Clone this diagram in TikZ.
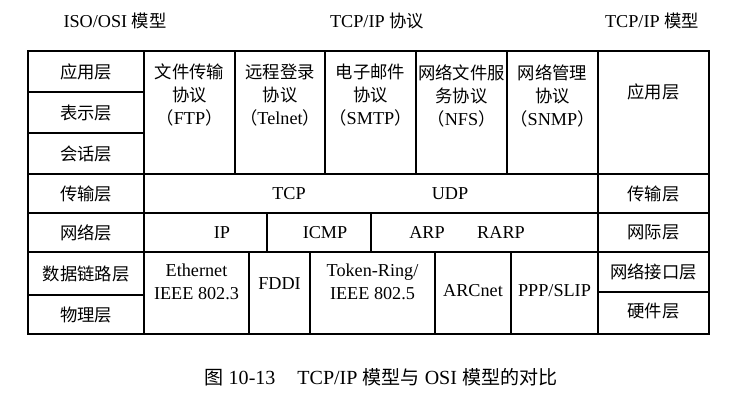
\documentclass[tikz,border=0pt]{standalone}
\usepackage{fontspec}
\setmainfont{Liberation Serif}[Scale=1.05]
\newfontfamily\cjk{Noto Sans CJK SC}
\usetikzlibrary{fit}
\newcommand\zh[1]{{\cjk #1}}
\begin{document}
\begin{tikzpicture}[x=0.75pt,y=-0.75pt,
  cell/.style={draw, line width=0.9pt, inner sep=0pt},
  lbl/.style={inner sep=0pt, font=\fontsize{13}{17.25}\selectfont, align=center},
  ttl/.style={inner sep=0pt, font=\fontsize{13}{17}\selectfont},
]
\useasboundingbox (0,0) rectangle (752,397);
% titles
\node[ttl] (t1) at (115,21) {ISO/OSI \zh{模型}};
\node[ttl] (t2) at (377,21) {TCP/IP \zh{协议}};
\node[ttl] (t3) at (652,21) {TCP/IP \zh{模型}};
% OSI column
\node[cell, fit={(28,51) (144,92)}] (o1) {};
\node[cell, fit={(28,92) (144,133)}] (o2) {};
\node[cell, fit={(28,133) (144,174)}] (o3) {};
\node[cell, fit={(28,174) (144,213)}] (o4) {};
\node[cell, fit={(28,213) (144,252)}] (o5) {};
\node[cell, fit={(28,252) (144,295)}] (o6) {};
\node[cell, fit={(28,295) (144,334)}] (o7) {};
\node[lbl] (o1t) at (o1) {\zh{应用层}};
\node[lbl] (o2t) at (o2) {\zh{表示层}};
\node[lbl] (o3t) at (o3) {\zh{会话层}};
\node[lbl] (o4t) at (o4) {\zh{传输层}};
\node[lbl] (o5t) at (o5) {\zh{网络层}};
\node[lbl] (o6t) at (o6) {\zh{数据链路层}};
\node[lbl] (o7t) at (o7) {\zh{物理层}};
% application protocols
\node[cell, fit={(144,51) (235,174)}] (a1) {};
\node[cell, fit={(235,51) (325,174)}] (a2) {};
\node[cell, fit={(325,51) (416,174)}] (a3) {};
\node[cell, fit={(416,51) (507,174)}] (a4) {};
\node[cell, fit={(507,51) (598,174)}] (a5) {};
\node[lbl, anchor=north] (a1t) at (a1.north |- 0,64) {\zh{文件传输}\\\zh{协议}\\\zh{（}FTP\zh{）}};
\node[lbl, anchor=north] (a2t) at (a2.north |- 0,64) {\zh{远程登录}\\\zh{协议}\\\zh{（}Telnet\zh{）}};
\node[lbl, anchor=north] (a3t) at (a3.north |- 0,64) {\zh{电子邮件}\\\zh{协议}\\\zh{（}SMTP\zh{）}};
\node[lbl, anchor=north] (a4t) at (a4.north |- 0,64) {\zh{网络文件服}\\\zh{务协议}\\\zh{（}NFS\zh{）}};
\node[lbl, anchor=north] (a5t) at (a5.north |- 0,64) {\zh{网络管理}\\\zh{协议}\\\zh{（}SNMP\zh{）}};
% transport
\node[cell, fit={(144,174) (598,213)}] (tr) {};
\node[lbl] (tcp) at (289,193.5) {TCP};
\node[lbl] (udp) at (450,193.5) {UDP};
% network
\node[cell, fit={(144,213) (267,252)}] (ip) {};
\node[cell, fit={(267,213) (371,252)}] (icmp) {};
\node[cell, fit={(371,213) (598,252)}] (arpc) {};
\node[lbl] (ipt) at (222,232.5) {IP};
\node[lbl] (icmpt) at (325,232.5) {ICMP};
\node[lbl] (arp) at (427,232.5) {ARP};
\node[lbl] (rarp) at (501,232.5) {RARP};
% link
\node[cell, fit={(144,252) (249,334)}] (l1) {};
\node[cell, fit={(249,252) (310,334)}] (l2) {};
\node[cell, fit={(310,252) (435,334)}] (l3) {};
\node[cell, fit={(435,252) (511,334)}] (l4) {};
\node[cell, fit={(511,252) (598,334)}] (l5) {};
\node[lbl] (l1t) at (196.5,281.5) {Ethernet\\IEEE 802.3};
\node[lbl] (l2t) at (279.5,284) {FDDI};
\node[lbl] (l3t) at (372.5,281.5) {Token-Ring/\\IEEE 802.5};
\node[lbl] (l4t) at (473,291) {ARCnet};
\node[lbl] (l5t) at (554.5,291) {PPP/SLIP};
% TCP/IP model column
\node[cell, fit={(598,51) (709,174)}] (m1) {};
\node[cell, fit={(598,174) (709,213)}] (m2) {};
\node[cell, fit={(598,213) (709,252)}] (m3) {};
\node[cell, fit={(598,252) (709,292)}] (m4) {};
\node[cell, fit={(598,292) (709,334)}] (m5) {};
\node[lbl] (m1t) at (653.5,92) {\zh{应用层}};
\node[lbl] (m2t) at (m2) {\zh{传输层}};
\node[lbl] (m3t) at (m3) {\zh{网际层}};
\node[lbl] (m4t) at (m4) {\zh{网络接口层}};
\node[lbl] (m5t) at (653.5,311) {\zh{硬件层}};
% caption
\node[ttl, font=\fontsize{14.3}{18}\selectfont] (cap) at (381,377) {\zh{图} 10-13\hspace{1.1em}TCP/IP \zh{模型与} OSI \zh{模型的对比}};
\end{tikzpicture}
\end{document}
